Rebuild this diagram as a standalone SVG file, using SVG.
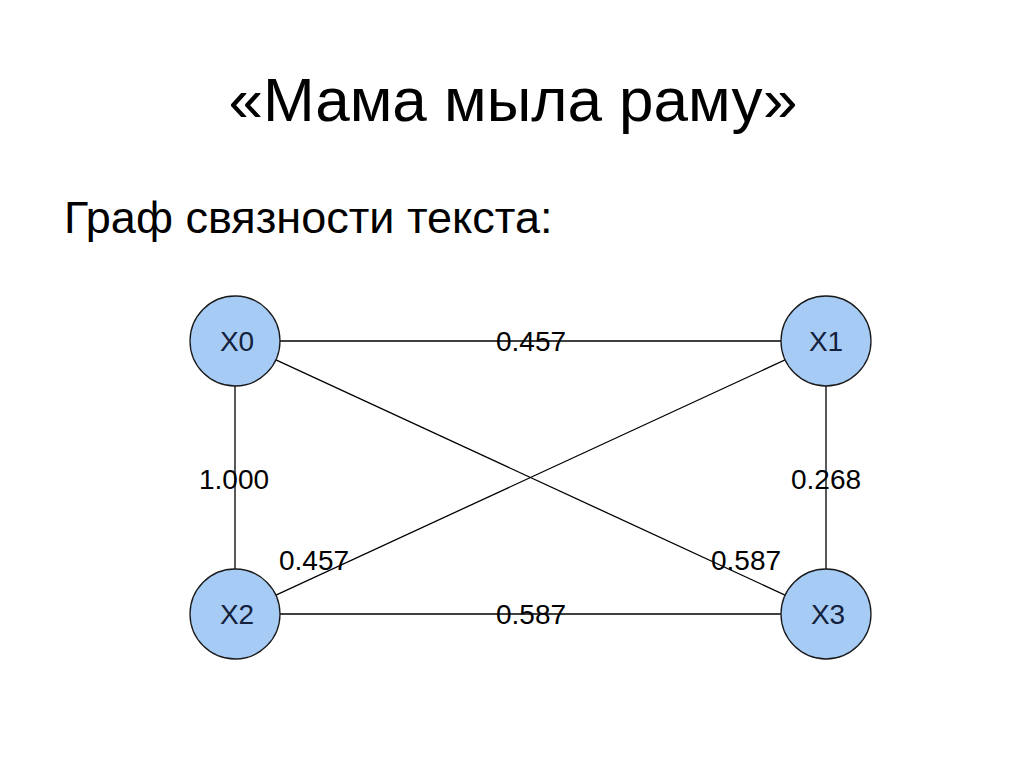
<svg xmlns="http://www.w3.org/2000/svg" width="1024" height="768" viewBox="0 0 1024 768">
<style>
text{font-family:"Liberation Sans",Arial,sans-serif;fill:#000}
.title{font-size:62px}
.sub{font-size:45px}
.edge{stroke:#000;stroke-width:1.3;fill:none}
.node circle{fill:#a6cbf5;stroke:#1a1a1a;stroke-width:1.3}
.node text{font-size:28px;fill:#14213d;text-anchor:middle}
.lbl{font-size:28px;text-anchor:middle}
</style>
<rect width="1024" height="768" fill="#fff"/>
<text class="title" x="513" y="121" text-anchor="middle">«Мама мыла раму»</text>
<text class="sub" x="64" y="233">Граф связности текста:</text>
<g id="connectors">
<line class="edge" x1="235" y1="341" x2="826" y2="341"/>
<line class="edge" x1="235" y1="614" x2="826" y2="614"/>
<line class="edge" x1="235" y1="341" x2="235" y2="614"/>
<line class="edge" x1="826" y1="341" x2="826" y2="614"/>
<line class="edge" x1="235" y1="341" x2="826" y2="614"/>
<line class="edge" x1="826" y1="341" x2="235" y2="614"/>
</g>
<g id="edge-labels">
<text class="lbl" x="531" y="351">0.457</text>
<text class="lbl" x="234" y="489">1.000</text>
<text class="lbl" x="826" y="489">0.268</text>
<text class="lbl" x="314" y="570">0.457</text>
<text class="lbl" x="746" y="570">0.587</text>
<text class="lbl" x="531" y="624">0.587</text>
</g>
<g id="X0" class="node"><circle cx="235" cy="341" r="45"/><text x="237" y="351">X0</text></g>
<g id="X1" class="node"><circle cx="826" cy="341" r="45"/><text x="826" y="351">X1</text></g>
<g id="X2" class="node"><circle cx="235" cy="614" r="45"/><text x="237" y="624">X2</text></g>
<g id="X3" class="node"><circle cx="826" cy="614" r="45"/><text x="828" y="624">X3</text></g>
</svg>
